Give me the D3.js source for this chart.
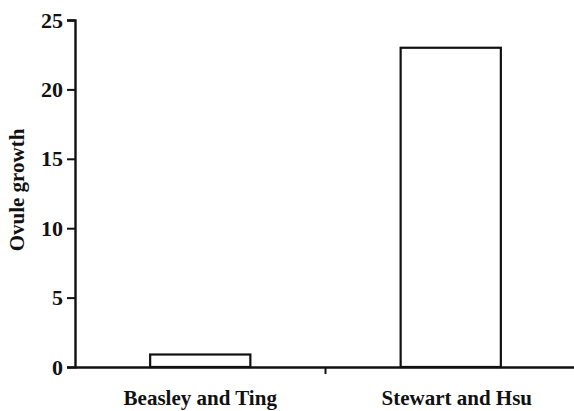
<!DOCTYPE html>
<html>
<head>
<meta charset="utf-8">
<script src="https://cdn.jsdelivr.net/npm/d3@7"></script>
<style>
  body { margin: 0; background: #fff; }
  text { font-family: "Liberation Serif", "Times New Roman", serif; font-weight: bold; fill: #111; }
</style>
</head>
<body>
<svg id="chart" width="574" height="411"></svg>
<script>
const categories = ['Beasley and Ting', 'Stewart and Hsu'];
const values = [0.9, 23];
const yTicks = [0, 5, 10, 15, 20, 25];

const svg = d3.select('#chart');
const margin = {top: 20, right: 0, bottom: 44, left: 75};
const width = 576 - margin.left,
  height = 367 - margin.top;

const x = d3.scaleBand().domain(categories).range([0, width]).paddingInner(0.6).paddingOuter(0.3);
const y = d3.scaleLinear().domain([0, 25]).range([height, 0]);

const g = svg.append('g')
  .attr('transform', `translate(${margin.left},${margin.top})`);

// bars
g.selectAll('.bar')
  .data(values)
  .enter().append('rect')
  .attr('class', 'bar')
  .attr('x', (d, i) => x(categories[i]))
  .attr('y', d => y(d))
  .attr('width', x.bandwidth())
  .attr('height', d => height - y(d))
  .attr('fill', '#fff')
  .attr('stroke', '#111')
  .attr('stroke-width', 2.2);

// y axis
const yAxis = g.append('g')
  .call(d3.axisLeft(y).tickValues(yTicks).tickSize(8).tickPadding(4));
yAxis.select('.domain').attr('stroke', '#111').attr('stroke-width', 2.4);
yAxis.selectAll('.tick line').attr('stroke', '#111').attr('stroke-width', 2);
yAxis.selectAll('.tick text')
  .style('font-size', '22px')
  .style('font-family', '"Liberation Serif", serif')
  .style('font-weight', 'bold');

// x axis (ticks between categories)
const xAxis = g.append('g')
  .attr('transform', `translate(0,${height})`)
  .call(d3.axisBottom(x).tickSize(0).tickSizeOuter(0).tickPadding(23));
xAxis.select('.domain').attr('stroke', '#111').attr('stroke-width', 2.4);
xAxis.selectAll('.tick text')
  .style('font-size', '21px')
  .style('font-family', '"Liberation Serif", serif')
  .style('font-weight', 'bold');
xAxis.selectAll('.tick text').attr('dx', (d, i) => i === 1 ? 6 : 0);
xAxis.append('line')
  .attr('x1', x(categories[1]) - x.step() * x.paddingInner() / 2)
  .attr('x2', x(categories[1]) - x.step() * x.paddingInner() / 2)
  .attr('y1', 0).attr('y2', 7)
  .attr('stroke', '#111').attr('stroke-width', 2);

// axis title
svg.append('text')
  .attr('transform', `translate(24,${margin.top + 170}) rotate(-90)`)
  .attr('text-anchor', 'middle')
  .style('font-size', '21px')
  .text('Ovule growth');
</script>
</body>
</html>
